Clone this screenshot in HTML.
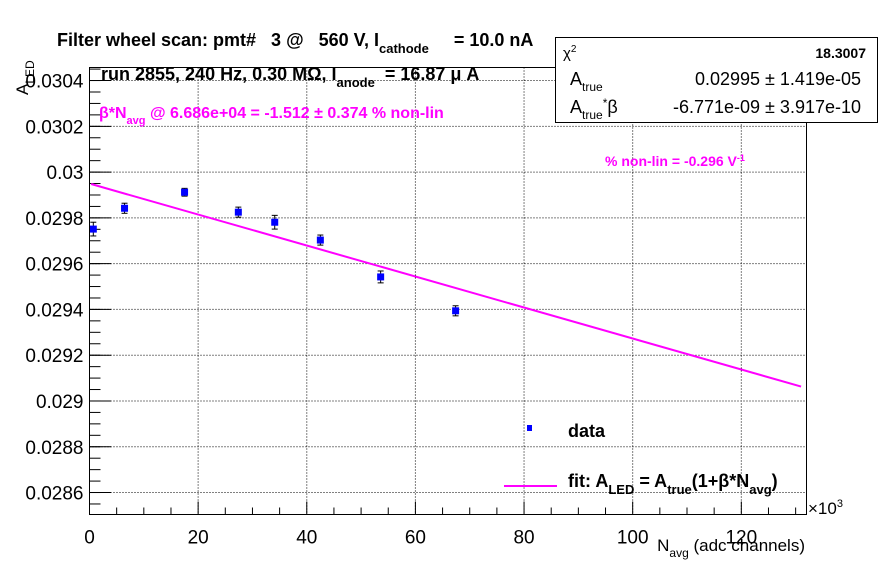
<!DOCTYPE html>
<html><head><meta charset="utf-8"><style>
body{margin:0;background:#fff}
svg text{font-family:"Liberation Sans",sans-serif;white-space:pre}
</style></head><body>
<svg id="c" width="896" height="572" xmlns="http://www.w3.org/2000/svg">
<rect width="896" height="572" fill="#fff"/>
<g id="grid"></g>
<g id="axes"></g>
<g id="fit"></g>
<g id="pts"></g>
<rect x="89.5" y="67.5" width="717" height="447" fill="none" stroke="#000" stroke-width="1"/>
<text x="57" y="46" font-size="18" font-weight="bold" xml:space="preserve">Filter wheel scan: pmt#   3 @   560 V, I<tspan dy="7" font-size="13">cathode</tspan><tspan dy="-7">     = 10.0 nA</tspan></text>
<text x="101" y="80" font-size="18" font-weight="bold" xml:space="preserve">run 2855, 240 Hz, 0.30 MΩ, I<tspan dy="7" font-size="13">anode</tspan><tspan dy="-7">  = 16.87 μ A</tspan></text>
<text x="99" y="118" font-size="16" font-weight="bold" fill="#f0f">β*N<tspan dy="6" font-size="11">avg</tspan><tspan dy="-6"> @ 6.686e+04 = -1.512 ± 0.374 % non-lin</tspan></text>
<text x="605" y="166" font-size="14" font-weight="bold" fill="#f0f">% non-lin = -0.296 V<tspan dy="-5" font-size="9">-1</tspan></text>
<g>
<rect x="555.5" y="37.5" width="322" height="85" fill="#fff" stroke="#000"/>
<text x="563" y="58" font-size="15">χ<tspan dy="-6" font-size="10">2</tspan></text>
<text x="866" y="58" font-size="14" font-weight="bold" text-anchor="end">18.3007</text>
<text x="570" y="85" font-size="18">A<tspan dy="6" font-size="12">true</tspan></text>
<text x="861" y="85" font-size="18" text-anchor="end">0.02995 ± 1.419e-05</text>
<text x="570" y="113" font-size="18">A<tspan dy="6" font-size="12">true</tspan><tspan dy="-12" font-size="12">*</tspan><tspan dy="6">β</tspan></text>
<text x="861" y="113" font-size="18" text-anchor="end">-6.771e-09 ± 3.917e-10</text>
</g>
<g>
<rect x="527" y="425" width="5" height="6" fill="#00f"/>
<text x="568" y="437" font-size="18" font-weight="bold">data</text>
<line x1="504" y1="486" x2="557" y2="486" stroke="#f0f" stroke-width="2"/>
<text x="568" y="487" font-size="18" font-weight="bold">fit: A<tspan dy="7" font-size="13">LED</tspan><tspan dy="-7"> = A</tspan><tspan dy="7" font-size="13">true</tspan><tspan dy="-7">(1+β*N</tspan><tspan dy="7" font-size="13">avg</tspan><tspan dy="-7">)</tspan></text>
</g>
<text x="808" y="514" font-size="17">×10<tspan dy="-7" font-size="11">3</tspan></text>
<text x="805" y="551" font-size="17" text-anchor="end">N<tspan dy="6" font-size="12">avg</tspan><tspan dy="-6"> (adc channels)</tspan></text>
<text transform="translate(28,95) rotate(-90)" font-size="17">A<tspan dy="6" font-size="12">LED</tspan></text>
</svg>
<script>
const xVals=[0.7,6.45,17.5,27.4,34.1,42.5,53.6,67.4];
const yVals=[0.029751,0.029842,0.029912,0.029825,0.029781,0.029703,0.029542,0.029394];
const yErrs=[0.00003,0.000022,0.000017,0.000022,0.00003,0.000022,0.000026,0.000022];
const xTicks=[0,20,40,60,80,100,120];
const yTicks=[0.0286,0.0288,0.029,0.0292,0.0294,0.0296,0.0298,0.03,0.0302,0.0304];
const yTickLabels=["0.0286","0.0288","0.029","0.0292","0.0294","0.0296","0.0298","0.03","0.0302","0.0304"];
const fitA=0.02995, fitAB=-6.771e-6; // per 10^3 channels
const X0=89.5,X1=806.5,Y0=514.5,Y1=67.5,xMin=0,xMax=132,yMin=0.028504,yMax=0.030457;
const sx=v=>X0+(v-xMin)/(xMax-xMin)*(X1-X0);
const sy=v=>Y0-(v-yMin)/(yMax-yMin)*(Y0-Y1);
const NS="http://www.w3.org/2000/svg";
function mk(p,t,a){const e=document.createElementNS(NS,t);for(const k in a)e.setAttribute(k,a[k]);p.appendChild(e);return e;}
const grid=document.getElementById('grid'),axes=document.getElementById('axes');
xTicks.forEach(t=>{
 const x=sx(t);
 if(t>0){const g=mk(grid,'line',{x1:x,x2:x,y1:Y1,y2:Y0,stroke:'#000','stroke-dasharray':'1 2'});
 
 }
 mk(axes,'line',{x1:x,x2:x,y1:Y0,y2:Y0-13,stroke:'#000'});
 const l=mk(axes,'text',{x:x,y:Y0+29,'font-size':19,'text-anchor':'middle'});l.textContent=t;
 
 
});
for(let t=5;t<xMax;t+=5){if(t%20)mk(axes,'line',{x1:sx(t),x2:sx(t),y1:Y0,y2:Y0-7,stroke:'#000'});}
yTicks.forEach((t,i)=>{
 const y=sy(t);
 const g=mk(grid,'line',{x1:X0,x2:X1,y1:y,y2:y,stroke:'#000','stroke-dasharray':'1 2'});
 
 
 mk(axes,'line',{x1:X0,x2:X0+22,y1:y,y2:y,stroke:'#000'});
 const l=mk(axes,'text',{x:X0-6,y:y+7,'font-size':19,'text-anchor':'end'});l.textContent=yTickLabels[i];
 
 
});
for(let t=0.02855;t<yMax;t+=0.00005){mk(axes,'line',{x1:X0,x2:X0+11,y1:sy(t),y2:sy(t),stroke:'#000'});}
const fl=mk(document.getElementById('fit'),'line',{x1:sx(xMin+0.3),y1:sy(fitA+fitAB*(xMin+0.3)),x2:sx(xMax-1),y2:sy(fitA+fitAB*(xMax-1)),stroke:'#f0f','stroke-width':2});


const pts=document.getElementById('pts');
xVals.forEach((xv,i)=>{
 const x=sx(xv),y=sy(yVals[i]),e1=sy(yVals[i]+yErrs[i]),e2=sy(yVals[i]-yErrs[i]);
 const g=mk(pts,'g',{});
 
 
 mk(g,'line',{x1:x,x2:x,y1:e1,y2:e2,stroke:'#000'});
 mk(g,'line',{x1:x-3,x2:x+3,y1:e1,y2:e1,stroke:'#000'});
 mk(g,'line',{x1:x-3,x2:x+3,y1:e2,y2:e2,stroke:'#000'});
 mk(g,'rect',{x:x-3.5,y:y-3.5,width:7,height:7,fill:'#00f'});
});
</script>
</body></html>
